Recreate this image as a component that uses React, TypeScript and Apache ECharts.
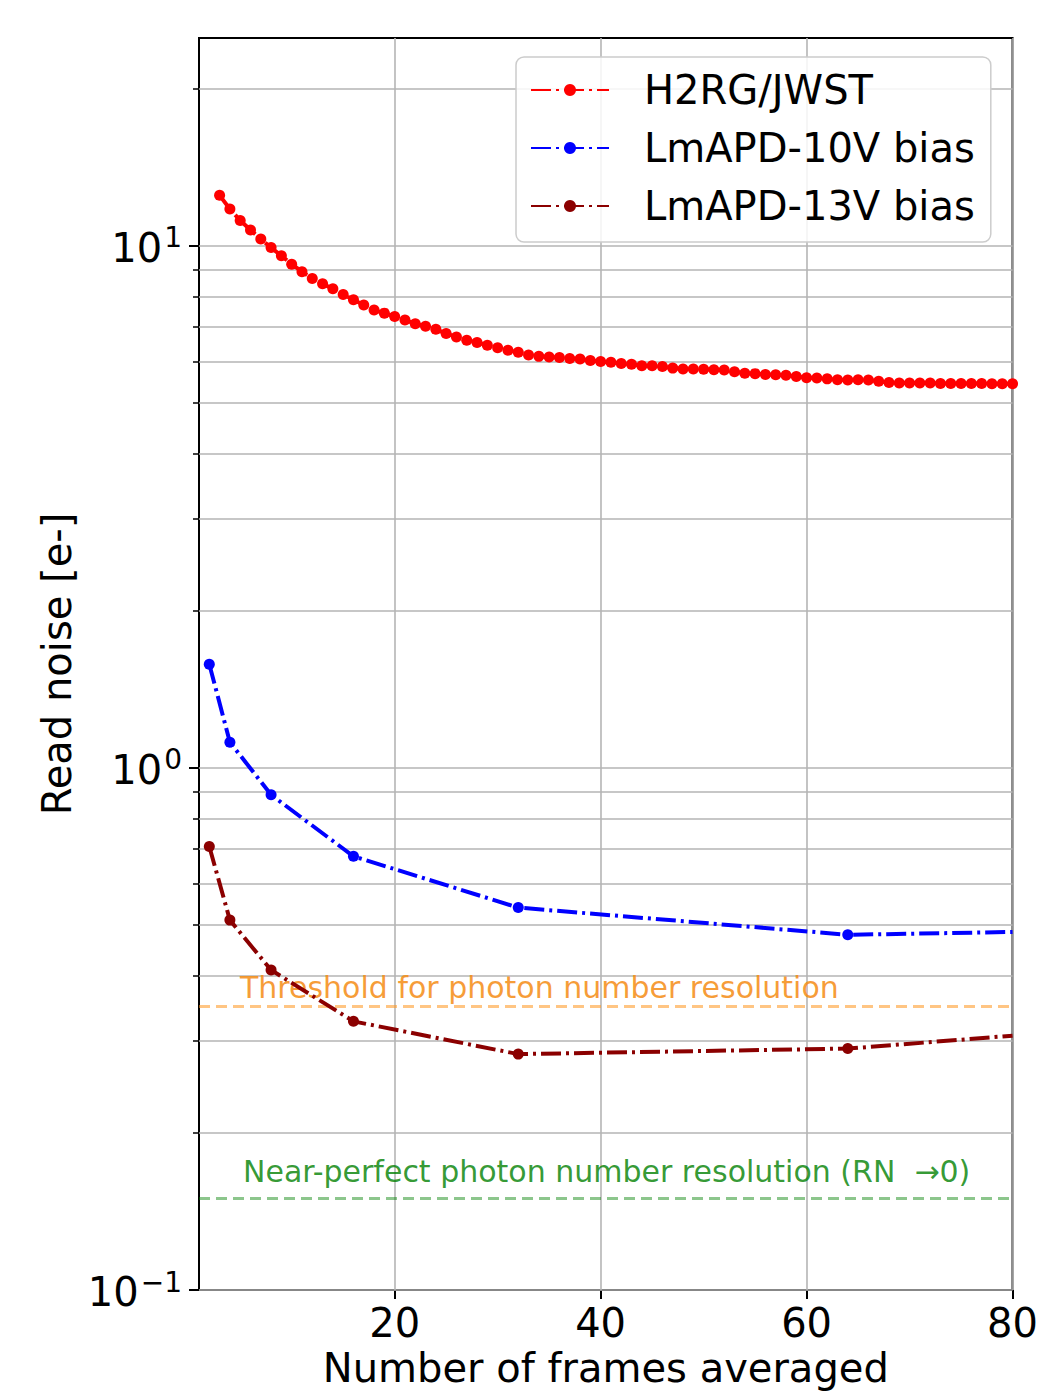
import React, { useEffect, useRef } from "react";
import * as echarts from "echarts";

const h2rgFrames = [3, 4, 5, 6, 7, 8, 9, 10, 11, 12, 13, 14, 15, 16, 17, 18, 19, 20, 21, 22, 23, 24, 25, 26, 27, 28, 29, 30, 31, 32, 33, 34, 35, 36, 37, 38, 39, 40, 41, 42, 43, 44, 45, 46, 47, 48, 49, 50, 51, 52, 53, 54, 55, 56, 57, 58, 59, 60, 61, 62, 63, 64, 65, 66, 67, 68, 69, 70, 71, 72, 73, 74, 75, 76, 77, 78, 79, 80];
const h2rgNoise = [12.49, 11.76, 11.18, 10.72, 10.3, 9.92, 9.57, 9.22, 8.92, 8.66, 8.46, 8.27, 8.07, 7.88, 7.7, 7.53, 7.43, 7.32, 7.21, 7.09, 7.01, 6.92, 6.79, 6.69, 6.59, 6.53, 6.45, 6.38, 6.31, 6.25, 6.18, 6.14, 6.12, 6.11, 6.08, 6.07, 6.03, 6.0, 5.98, 5.95, 5.93, 5.89, 5.89, 5.87, 5.83, 5.81, 5.81, 5.8, 5.79, 5.78, 5.74, 5.7, 5.69, 5.67, 5.66, 5.65, 5.62, 5.59, 5.58, 5.56, 5.54, 5.53, 5.54, 5.53, 5.5, 5.47, 5.46, 5.46, 5.46, 5.46, 5.45, 5.45, 5.45, 5.45, 5.45, 5.44, 5.44, 5.44];

const apdFrames = [2, 4, 8, 16, 32, 64, 80];
const apd10Noise = [1.58, 1.12, 0.888, 0.677, 0.54, 0.479, 0.485];
const apd13Noise = [0.707, 0.511, 0.41, 0.327, 0.283, 0.29, 0.307];

const thresholdPNR = 0.355;
const thresholdNearPerfect = 0.151;

const xTicks = [20, 40, 60, 80];
const yMajorTicks = [0.1, 1, 10];
const yMinorTicks = [0.2, 0.3, 0.4, 0.5, 0.6, 0.7, 0.8, 0.9, 2, 3, 4, 5, 6, 7, 8, 9, 20];

const seriesNames = ["H2RG/JWST", "LmAPD-10V bias", "LmAPD-13V bias"];
const seriesColors = ["#ff0000", "#0000ff", "#8b0000"];

const FONT = "DejaVu Sans";
const DASHDOT = [20, 5, 3, 5];
const GRID_COLOR = "#b5b5b5";

function pairs(xs: number[], ys: number[], lastNoSymbol: boolean) {
  return xs.map((x, i) => {
    if (lastNoSymbol && i === xs.length - 1) {
      return { value: [x, ys[i]], symbol: "none" };
    }
    return [x, ys[i]];
  });
}

export default function App() {
  const ref = useRef<HTMLDivElement>(null);
  useEffect(() => {
    if (!ref.current) return;
    const chart = echarts.init(ref.current, null, { renderer: "svg" });
    const supMap: Record<string, string> = { "0.1": "−1", "1": "0", "10": "1" };
    const gridLines = [
      ...xTicks.map((v) => ({ xAxis: v })),
      ...yMajorTicks.map((v) => ({ yAxis: v })),
      ...yMinorTicks.map((v) => ({ yAxis: v })),
    ];
    const lineSeries = [h2rgNoise, apd10Noise, apd13Noise].map((vals, i) => ({
      name: seriesNames[i],
      type: "line",
      z: 5,
      data: i === 0 ? pairs(h2rgFrames, vals, false) : pairs(apdFrames, vals, true),
      symbol: "circle",
      symbolSize: 11,
      showSymbol: true,
      color: seriesColors[i],
      lineStyle: { color: seriesColors[i], width: 4, type: DASHDOT },
      itemStyle: { color: seriesColors[i] },
    }));
    chart.setOption({
      animation: false,
      backgroundColor: "#ffffff",
      grid: {
        left: 199,
        top: 38,
        width: 814,
        height: 1252,
        show: true,
        borderColor: "#000",
        borderWidth: 2,
        backgroundColor: "transparent",
        containLabel: false,
      },
      legend: {
        data: seriesNames,
        orient: "vertical",
        left: 516,
        top: 57,
        z: 20,
        itemWidth: 78,
        itemHeight: 15,
        itemGap: 18,
        padding: [13, 16, 16, 14],
        backgroundColor: "rgba(255,255,255,0.85)",
        borderColor: "#cccccc",
        borderWidth: 1.5,
        borderRadius: 8,
        textStyle: {
          fontSize: 40,
          fontFamily: FONT,
          color: "#000",
          padding: [0, 0, 0, 30],
        },
      },
      xAxis: {
        type: "value",
        min: 1,
        max: 80,
        name: "Number of frames averaged",
        nameLocation: "middle",
        nameGap: 54,
        nameTextStyle: { fontSize: 40, fontFamily: FONT, color: "#000" },
        axisLine: { show: true, onZero: false, lineStyle: { color: "#000", width: 2 } },
        axisTick: { show: true, customValues: xTicks, length: 9, lineStyle: { color: "#000", width: 2 } },
        axisLabel: { customValues: xTicks, fontSize: 40, fontFamily: FONT, color: "#000", margin: 13 },
        splitLine: { show: false },
      },
      yAxis: [
        {
          type: "log",
          logBase: 10,
          min: 0.1,
          max: 25,
          name: "Read noise [e-]",
          nameLocation: "middle",
          nameGap: 122,
          nameTextStyle: { fontSize: 40, fontFamily: FONT, color: "#000" },
          axisLine: { show: true, lineStyle: { color: "#000", width: 2 } },
          axisTick: { show: true, customValues: yMajorTicks, length: 10, lineStyle: { color: "#000", width: 2 } },
          axisLabel: {
            customValues: yMajorTicks,
            margin: 17,
            formatter: (v: number) => {
              const key = String(Math.round(v * 10) / 10);
              return "{b|10}{s|" + (supMap[key] ?? "") + "}";
            },
            rich: {
              b: { fontSize: 40, fontFamily: FONT, color: "#000", verticalAlign: "bottom" },
              s: { fontSize: 28, fontFamily: FONT, color: "#000", verticalAlign: "bottom", padding: [0, 0, 16, 2] },
            },
          },
          splitLine: { show: false },
          minorTick: { show: false },
        },
        {
          type: "log",
          logBase: 10,
          min: 0.1,
          max: 25,
          position: "left",
          axisLine: { show: false },
          axisTick: { show: true, customValues: yMinorTicks, length: 6, lineStyle: { color: "#000", width: 1.5 } },
          axisLabel: { show: false },
          splitLine: { show: false },
        },
      ],
      series: [
        {
          name: "grid",
          type: "line",
          z: 1,
          silent: true,
          data: [[1, 1]],
          symbol: "none",
          lineStyle: { opacity: 0 },
          markLine: {
            silent: true,
            z: 1,
            symbol: ["none", "none"],
            label: { show: false },
            lineStyle: { color: GRID_COLOR, width: 1.6, type: "solid" },
            data: gridLines,
          },
        },
        {
          name: "threshold",
          type: "line",
          z: 2,
          silent: true,
          data: [[1, 1]],
          symbol: "none",
          lineStyle: { opacity: 0 },
          markLine: {
            silent: true,
            z: 2,
            symbol: ["none", "none"],
            lineStyle: { color: "rgba(255,150,30,0.55)", width: 3, type: [11, 6] },
            label: {
              show: true,
              position: "insideStartTop",
              formatter: "Threshold for photon number resolution",
              color: "rgba(245,140,20,0.85)",
              fontSize: 30,
              fontFamily: FONT,
              distance: [41, 3],
            },
            data: [{ yAxis: thresholdPNR }],
          },
        },
        {
          name: "nearPerfect",
          type: "line",
          z: 2,
          silent: true,
          data: [[1, 1]],
          symbol: "none",
          lineStyle: { opacity: 0 },
          markLine: {
            silent: true,
            z: 2,
            symbol: ["none", "none"],
            lineStyle: { color: "rgba(0,128,0,0.45)", width: 3, type: [11, 6] },
            label: {
              show: true,
              position: "insideStartTop",
              formatter: "Near-perfect photon number resolution (RN  →0)",
              color: "rgba(0,128,0,0.8)",
              fontSize: 30,
              fontFamily: FONT,
              distance: [44, 12],
            },
            data: [{ yAxis: thresholdNearPerfect }],
          },
        },
        ...lineSeries,
      ],
    });
    return () => chart.dispose();
  }, []);
  return (
    <div
      ref={ref}
      style={{ position: "absolute", left: 0, top: 0, width: 1041, height: 1395, background: "#fff" }}
    />
  );
}
